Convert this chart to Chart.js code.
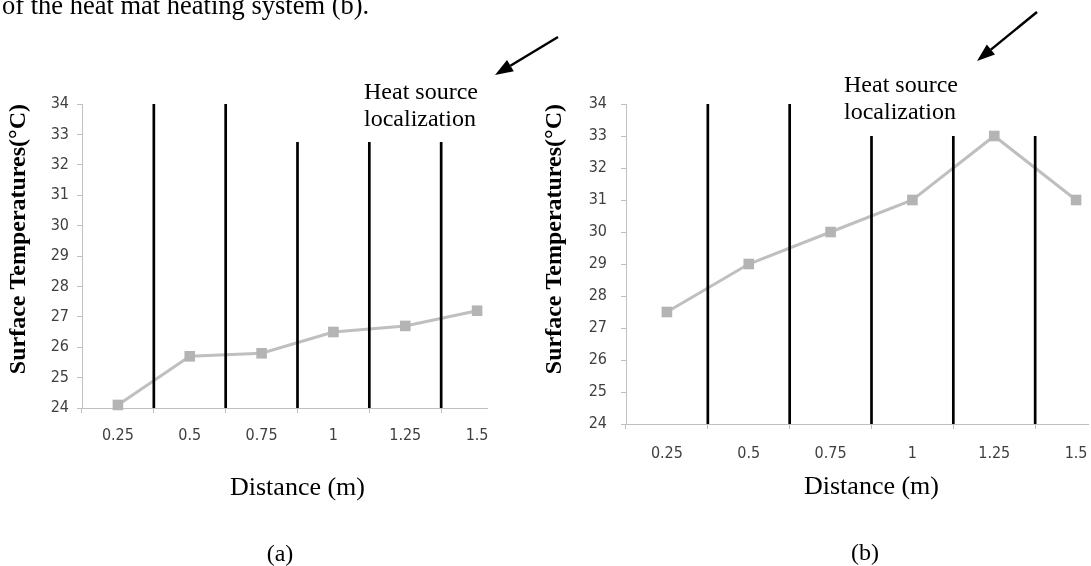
<!DOCTYPE html>
<html><head><meta charset="utf-8">
<script src="https://cdn.jsdelivr.net/npm/chart.js@4.4.0/dist/chart.umd.min.js"></script>
<style>
html,body{margin:0;padding:0;background:#fff;width:1091px;height:566px;overflow:hidden;}
.clip{position:absolute;top:0;overflow:hidden;}
canvas{position:absolute;left:0;top:0;}
svg{position:absolute;left:0;top:0;}
</style></head><body>
<div class="clip" style="left:0;width:488px;height:508px"><canvas id="ca" width="513" height="508"></canvas></div>
<div class="clip" style="left:536px;width:553px;height:500px"><canvas id="cb" width="581" height="500"></canvas></div>
<svg width="1091" height="566">
<g font-family="'Liberation Serif','Times New Roman',serif" fill="#000">
<text x="2" y="14" font-size="26.5">of the heat mat heating system (b).</text>
<text x="364" y="98.5" font-size="24">Heat source</text>
<text x="364" y="125.5" font-size="24">localization</text>
<text x="844" y="92" font-size="24">Heat source</text>
<text x="844" y="119" font-size="24">localization</text>
<text x="280" y="561" font-size="24" text-anchor="middle">(a)</text>
<text x="865" y="560" font-size="24" text-anchor="middle">(b)</text>
</g>
<g stroke="#000" stroke-width="2.5">
<line x1="558" y1="37" x2="510.4" y2="65.7"/>
<line x1="1037" y1="12" x2="990.9" y2="49.6"/>
</g>
<polygon points="495,75 513.8,71.3 507.0,60.1" fill="#000"/>
<polygon points="977,61 995.0,54.6 986.8,44.6" fill="#000"/>
</svg>
<script>
// ---- data ----
const distances = ['0.25', '0.5', '0.75', '1', '1.25', '1.5'];
const tempsA = [24.1, 25.7, 25.8, 26.5, 26.7, 27.2];
const tempsB = [27.5, 29, 30, 31, 33, 31];
const heatLinePos = [0.375, 0.625, 0.875, 1.125, 1.375];
const heatLineTopA = [34, 34, 32.75, 32.75, 32.75];
const heatLineTopB = [34, 34, 33, 33, 33];
const yMin = 24;
const yMax = 34;
const yStep = 1;
const xTitle = 'Distance (m)';
const yTitle = 'Surface Temperatures(°C)';

const tickFont = "'DejaVu Sans Condensed','Liberation Sans Narrow','Liberation Sans',sans-serif";
const serif = "'Liberation Serif','Times New Roman',serif";

function makeChart(id, temps, tops, o) {
  const datasets = [{
    type: 'line', data: temps, xAxisID: 'x', yAxisID: 'y',
    borderColor: '#BFBFBF', borderWidth: 3, tension: 0,
    pointStyle: 'rect', pointRadius: 7.5, pointHoverRadius: 7.5,
    pointBackgroundColor: '#B4B4B4', pointBorderColor: '#B4B4B4', pointBorderWidth: 0,
    order: 2, clip: false
  }];
  heatLinePos.forEach((p, i) => {
    datasets.push({
      type: 'line', data: [{x: p, y: yMin}, {x: p, y: tops[i]}],
      xAxisID: 'x2', yAxisID: 'y', borderColor: '#000', borderWidth: 2.7,
      borderCapStyle: 'butt', pointRadius: 0, pointHoverRadius: 0, order: 1
    });
  });
  return new Chart(document.getElementById(id), {
    type: 'line',
    data: {labels: distances, datasets},
    options: {
      responsive: false, animation: false,
      layout: {autoPadding: false, padding: {top: 104, left: 0, right: 0, bottom: 0}},
      plugins: {legend: {display: false}, tooltip: {enabled: false}},
      scales: {
        x: {
          type: 'category', position: 'bottom', offset: true,
          grid: {display: true, offset: true, drawOnChartArea: false, drawTicks: true, tickLength: 5, color: '#BFBFBF'},
          border: {display: true, color: '#BFBFBF', width: 1},
          ticks: {font: {family: tickFont, size: 16}, color: '#3F3F3F', padding: o.xPad, maxRotation: 0, autoSkip: false},
          title: {display: true, text: xTitle, color: '#000', font: {family: serif, size: 26, lineHeight: 1}, padding: {top: 0, bottom: o.xTitlePad}},
          afterFit(s) { s.height = o.xHeight; s.paddingLeft = 0; s.paddingRight = 0; }
        },
        x2: {type: 'linear', display: false, position: 'bottom', min: 0.125, max: 1.625},
        y: {
          min: yMin, max: yMax,
          grid: {display: true, drawOnChartArea: false, drawTicks: true, tickLength: 5, color: '#BFBFBF'},
          border: {display: true, color: '#BFBFBF', width: 1},
          ticks: {stepSize: yStep, font: {family: tickFont, size: 16}, color: '#3F3F3F', padding: o.yPad},
          title: {display: true, text: yTitle, align: 'end', color: '#000', font: {family: serif, size: 24, weight: 'bold', lineHeight: 1}, padding: {top: o.yTitlePad, bottom: 0}},
          afterFit(s) { s.width = o.yWidth; }
        }
      }
    }
  });
}

makeChart('ca', tempsA, heatLineTopA, {yWidth: 82, yPad: 8, yTitlePad: 7, xHeight: 100, xPad: 13, xTitlePad: 7});
makeChart('cb', tempsB, heatLineTopB, {yWidth: 90, yPad: 14, yTitlePad: 7, xHeight: 76, xPad: 15, xTitlePad: 0});
</script>
</body></html>
